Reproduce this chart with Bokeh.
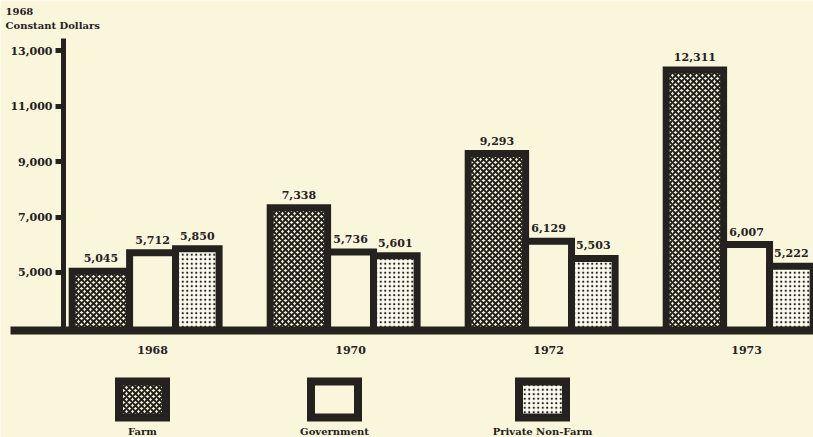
from bokeh.plotting import figure
from bokeh.models import Range1d, LinearAxis, FixedTicker, NumeralTickFormatter, ColumnDataSource
from bokeh.core.properties import value
from bokeh.embed import file_html
from bokeh.resources import INLINE

# ---------------- data ----------------
years = ["1968", "1970", "1972", "1973"]
farm = [5045, 7338, 9293, 12311]
government = [5712, 5736, 6129, 6007]
private_nonfarm = [5850, 5601, 5503, 5222]
series_names = ["Farm", "Government", "Private Non-Farm"]
y_ticks = [5000, 7000, 9000, 11000, 13000]
y_label = ["1968", "Constant Dollars"]

# ---------------- layout / style ----------------
BG = "#faf6dc"
INK = "#25211e"
FONT = value("DejaVu Serif")
W, H = 813, 437
Y_BASE = 2900
X0, X1 = -0.768, 3.338
Y0, Y1 = -966, 14823


def px2x(px):
    return X0 + px / W * (X1 - X0)


def px2y(py):
    return Y1 - py / H * (Y1 - Y0)


p = figure(width=W, height=H, x_range=Range1d(X0, X1), y_range=Range1d(Y0, Y1),
           x_axis_type=None, y_axis_type=None, output_backend="svg",
           toolbar_location=None, min_border=0, outline_line_color=None,
           background_fill_color=BG, border_fill_color=BG)
p.grid.visible = False

styles = [
    dict(fill_color=BG, hatch_pattern="diagonal_cross", hatch_color=INK, hatch_weight=2.0, hatch_scale=6),
    dict(fill_color=BG),
    dict(fill_color="#fdfbef", hatch_pattern="dot", hatch_color=INK, hatch_weight=2.6, hatch_scale=4.5),
]
offsets = [-0.261, 0.0, 0.226]
widths = [0.29, 0.232, 0.22]
series = [farm, government, private_nonfarm]

idx = list(range(len(years)))
for vals, off, w, st in zip(series, offsets, widths, styles):
    src = ColumnDataSource(dict(x=[i + off for i in idx], top=vals,
                                label=[f"{v:,}" for v in vals]))
    p.vbar(x="x", top="top", bottom=Y_BASE, width=w, source=src,
           line_color=INK, line_width=7, line_join="miter", **st)
    p.text(x="x", y="top", text="label", source=src, text_align="center",
           text_baseline="bottom", y_offset=-9, text_font=FONT,
           text_font_style="bold", text_font_size="11px", text_color=INK)

# y axis
yaxis = LinearAxis(fixed_location=px2x(63), bounds=(Y_BASE, px2y(38)),
                   ticker=FixedTicker(ticks=y_ticks),
                   formatter=NumeralTickFormatter(format="0,0"),
                   axis_line_width=5, axis_line_color=INK,
                   major_tick_line_width=5, major_tick_line_color=INK,
                   major_tick_in=0, major_tick_out=8,
                   minor_tick_line_color=None,
                   major_label_text_font="DejaVu Serif",
                   major_label_text_font_style="bold",
                   major_label_text_font_size="11px",
                   major_label_text_color=INK, major_label_standoff=3)
p.add_layout(yaxis, "left")

# x axis (baseline)
xaxis = LinearAxis(fixed_location=Y_BASE, ticker=FixedTicker(ticks=idx),
                   bounds=(px2x(10), X1),
                   major_label_overrides={i: y for i, y in enumerate(years)},
                   axis_line_width=8, axis_line_color=INK,
                   major_tick_line_color=None, minor_tick_line_color=None,
                   major_label_text_font="DejaVu Serif",
                   major_label_text_font_style="bold",
                   major_label_text_font_size="11px",
                   major_label_text_color=INK, major_label_standoff=10)
p.add_layout(xaxis, "below")

# y label (top-left)
p.text(x=[px2x(5)] * 2, y=[px2y(11), px2y(25)], text=y_label,
       text_align="left", text_baseline="middle", text_font=FONT,
       text_font_style="bold", text_font_size="10px", text_color=INK)

# legend (swatches with labels below)
leg_cx = [142, 334, 542]
leg_w, leg_h, leg_top = 55, 44, 377
for cx, name, st in zip(leg_cx, series_names, styles):
    p.quad(left=px2x(cx - leg_w / 2 + 4), right=px2x(cx + leg_w / 2 - 4),
           top=px2y(leg_top + 4), bottom=px2y(leg_top + leg_h - 4),
           line_color=INK, line_width=8, line_join="miter", **st)
    p.text(x=[px2x(cx)], y=[px2y(leg_top + leg_h + 10)], text=[name],
           text_align="center", text_baseline="middle", text_font=FONT,
           text_font_style="bold", text_font_size="10px", text_color=INK)

open("out.html", "w").write(file_html(p, INLINE))
